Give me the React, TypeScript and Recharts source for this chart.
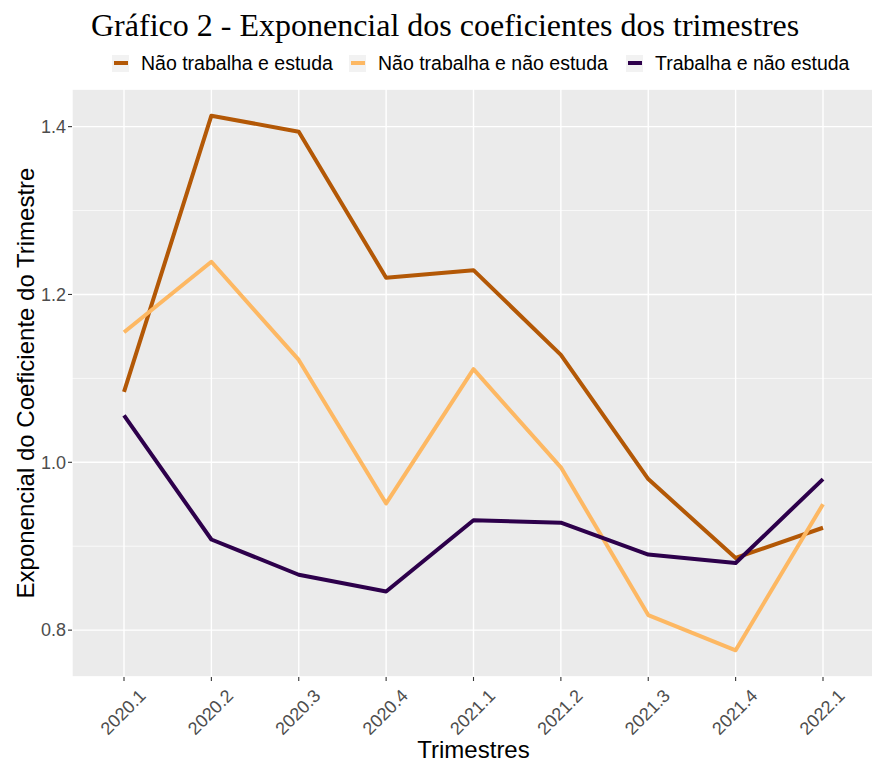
import React from 'react';
import { LineChart, Line, XAxis, YAxis, CartesianGrid } from 'recharts';

const trimestres = ['2020.1', '2020.2', '2020.3', '2020.4', '2021.1', '2021.2', '2021.3', '2021.4', '2022.1'];

const naoTrabalhaEstuda = [1.084, 1.413, 1.394, 1.220, 1.229, 1.128, 0.980, 0.886, 0.922];
const naoTrabalhaNaoEstuda = [1.155, 1.239, 1.122, 0.951, 1.111, 0.994, 0.818, 0.776, 0.950];
const trabalhaNaoEstuda = [1.056, 0.908, 0.866, 0.846, 0.931, 0.928, 0.890, 0.880, 0.980];

const majorTicks = [0.8, 1.0, 1.2, 1.4];
const minorTicks = [0.9, 1.1, 1.3];

const data = trimestres.map((t, i) => ({
  trimestre: t,
  naoTrabalhaEstuda: naoTrabalhaEstuda[i],
  naoTrabalhaNaoEstuda: naoTrabalhaNaoEstuda[i],
  trabalhaNaoEstuda: trabalhaNaoEstuda[i],
}));

// ggplot style 5% expansion of the data range
const all = [...naoTrabalhaEstuda, ...naoTrabalhaNaoEstuda, ...trabalhaNaoEstuda];
const lo = Math.min(...all);
const hi = Math.max(...all);
const pad = (hi - lo) * 0.05;
const domain: [number, number] = [lo - pad, hi + pad];

const series = [
  { key: 'naoTrabalhaEstuda', name: 'Não trabalha e estuda', color: '#B35806', textLeft: 141 },
  { key: 'naoTrabalhaNaoEstuda', name: 'Não trabalha e não estuda', color: '#FDB863', textLeft: 378 },
  { key: 'trabalhaNaoEstuda', name: 'Trabalha e não estuda', color: '#2D004B', textLeft: 655 },
];

const SANS = '"Liberation Sans", Arial, sans-serif';

const XTick = ({ x, y, payload }: any) => (
  <g transform={`translate(${x},${y})`}>
    <text
      transform="translate(-1,31) rotate(-45)"
      textAnchor="middle"
      dy="0.35em"
      fill="#4D4D4D"
      fontSize={18}
      fontFamily={SANS}
    >
      {payload.value}
    </text>
  </g>
);

const YTick = ({ x, y, payload }: any) => (
  <text x={x} y={y} textAnchor="end" dy="0.35em" fill="#4D4D4D" fontSize={18} fontFamily={SANS}>
    {Number(payload.value).toFixed(1)}
  </text>
);

const App: React.FC = () => {
  return (
    <div
      style={{
        position: 'absolute',
        left: 0,
        top: 0,
        width: 872,
        height: 763,
        overflow: 'hidden',
        background: '#fff',
      }}
    >
      <div
        style={{
          position: 'absolute',
          left: 91,
          top: 9,
          fontFamily: '"Liberation Serif", "Times New Roman", serif',
          fontSize: 32,
          lineHeight: '32px',
          whiteSpace: 'nowrap',
          color: '#000',
        }}
      >
        Gráfico 2 - Exponencial dos coeficientes dos trimestres
      </div>

      {series.map(s => (
        <React.Fragment key={s.key}>
          <div
            style={{
              position: 'absolute',
              left: s.textLeft - 29,
              top: 54.5,
              width: 17,
              height: 17,
              background: '#F2F2F2',
            }}
          >
            <div
              style={{
                position: 'absolute',
                left: 1.5,
                right: 1.5,
                top: 6.5,
                height: 4,
                background: s.color,
              }}
            />
          </div>
          <div
            style={{
              position: 'absolute',
              left: s.textLeft,
              top: 53.5,
              fontFamily: SANS,
              fontSize: 19.5,
              lineHeight: '19.5px',
              whiteSpace: 'nowrap',
              color: '#000',
            }}
          >
            {s.name}
          </div>
        </React.Fragment>
      ))}

      <div
        style={{
          position: 'absolute',
          left: 26,
          top: 383,
          transform: 'translate(-50%, -50%) rotate(-90deg)',
          fontFamily: SANS,
          fontSize: 24,
          lineHeight: '24px',
          whiteSpace: 'nowrap',
          color: '#000',
        }}
      >
        Exponencial do Coeficiente do Trimestre
      </div>

      <div
        style={{
          position: 'absolute',
          left: 473.5,
          top: 737.7,
          transform: 'translateX(-50%)',
          fontFamily: SANS,
          fontSize: 24,
          lineHeight: '24px',
          whiteSpace: 'nowrap',
          color: '#000',
        }}
      >
        Trimestres
      </div>

      <div style={{ position: 'absolute', left: 0, top: 0 }}>
        <LineChart width={880} height={763} data={data} margin={{ top: 89, right: 5, left: 0, bottom: 0 }}>
          <CartesianGrid fill="#EBEBEB" stroke="#FFFFFF" strokeWidth={1.4} strokeDasharray="" />
          <CartesianGrid yAxisId="minor" vertical={false} stroke="#FFFFFF" strokeWidth={0.7} />
          <XAxis
            dataKey="trimestre"
            height={86}
            padding={{ left: 52, right: 52 }}
            axisLine={false}
            tickSize={4}
            tickMargin={0}
            tickLine={{ stroke: '#333333', strokeWidth: 1.1 }}
            tick={<XTick />}
            interval={0}
          />
          <YAxis
            type="number"
            width={72}
            domain={domain}
            ticks={majorTicks}
            allowDataOverflow
            axisLine={false}
            tickSize={4}
            tickMargin={2}
            tickLine={{ stroke: '#333333', strokeWidth: 1.1 }}
            tick={<YTick />}
          />
          <YAxis yAxisId="minor" type="number" hide domain={domain} ticks={minorTicks} allowDataOverflow />
          {series.map(s => (
            <Line
              key={s.key}
              type="linear"
              dataKey={s.key}
              name={s.name}
              stroke={s.color}
              strokeWidth={4}
              strokeLinejoin="round"
              strokeLinecap="butt"
              dot={false}
              activeDot={false}
              isAnimationActive={false}
            />
          ))}
        </LineChart>
      </div>
    </div>
  );
};

export default App;
